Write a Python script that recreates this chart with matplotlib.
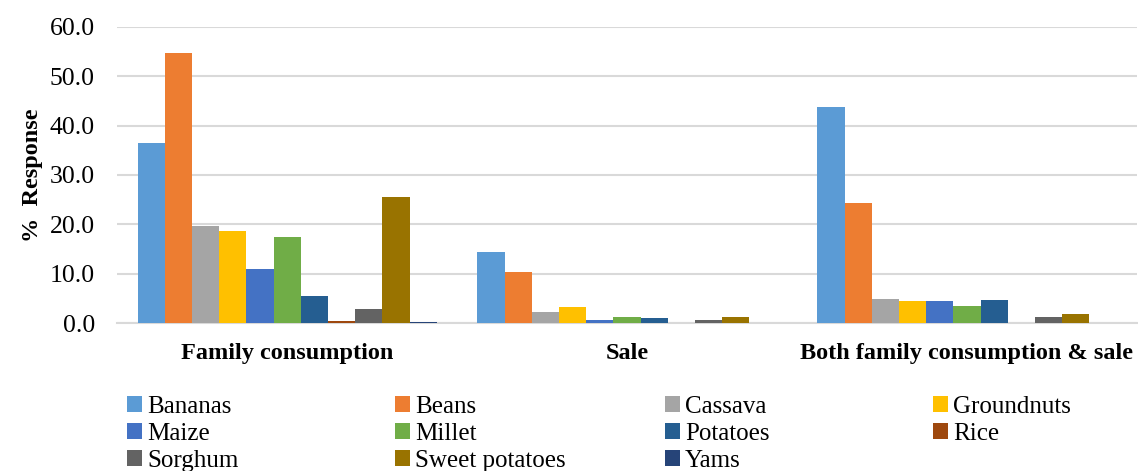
import matplotlib
matplotlib.use("Agg")
import matplotlib.pyplot as plt
import numpy as np

plt.rcParams['font.family'] = ['Liberation Serif', 'DejaVu Serif']

categories = ["Family consumption", "Sale", "Both family consumption & sale"]
crops = ["Bananas", "Beans", "Cassava", "Groundnuts", "Maize", "Millet",
         "Potatoes", "Rice", "Sorghum", "Sweet potatoes", "Yams"]
colors = ["#5B9BD5", "#ED7D31", "#A5A5A5", "#FFC000", "#4472C4", "#70AD47",
          "#255E91", "#9E480E", "#636363", "#997300", "#264478"]

bananas = [36.4, 14.3, 43.7]
beans = [54.8, 10.4, 24.4]
cassava = [19.7, 2.3, 4.9]
groundnuts = [18.7, 3.3, 4.4]
maize = [10.9, 0.7, 4.4]
millet = [17.5, 1.3, 3.4]
potatoes = [5.5, 1.1, 4.7]
rice = [0.5, 0.0, 0.0]
sorghum = [2.8, 0.7, 1.3]
sweet_potatoes = [25.5, 1.3, 1.8]
yams = [0.3, 0.0, 0.0]

series = [bananas, beans, cassava, groundnuts, maize, millet,
          potatoes, rice, sorghum, sweet_potatoes, yams]

fig = plt.figure(figsize=(11.38, 4.71), dpi=100)
ax = fig.add_axes([0.103, 0.314, 0.896, 0.629])

x = np.arange(len(categories))
n = len(series)
group_w = 0.88
w = group_w / n
handles = []
for i, (vals, c) in enumerate(zip(series, colors)):
    b = ax.bar(x - group_w / 2 + w * (i + 0.5), vals, width=w, color=c,
               label=crops[i], linewidth=0, zorder=3)
    handles.append(b)

ax.set_xlim(-0.5, 2.5)
ax.set_ylim(0, 60)
ax.set_yticks(np.arange(0, 61, 10))
ax.set_yticklabels([f"{v:.1f}" for v in np.arange(0, 61, 10)], fontsize=18.5)
ax.set_xticks(x)
ax.set_xticklabels(categories, fontsize=17.5, fontweight='bold')
ax.tick_params(axis='both', length=0)
ax.tick_params(axis='y', pad=16)
ax.tick_params(axis='x', pad=14)
ax.grid(axis='y', color='#D9D9D9', linewidth=1.5, zorder=0)
for s in ['top', 'right', 'left']:
    ax.spines[s].set_visible(False)
ax.spines['bottom'].set_color('#D9D9D9')
ax.spines['bottom'].set_linewidth(1.5)
ax.set_ylabel("%  Response", fontsize=17.5, fontweight='bold', labelpad=5)

# Legend laid out in four evenly spaced columns, filled row by row
col_x = [127, 395, 665, 933]
ncol = 4
for c in range(ncol):
    idx = list(range(c, n, ncol))
    fig.legend([handles[i] for i in idx], [crops[i] for i in idx],
               loc='upper left',
               bbox_to_anchor=(col_x[c] / 1138, 1 - 396 / 471),
               frameon=False, fontsize=18, handlelength=0.6,
               handleheight=0.6, handletextpad=0.2, labelspacing=0.2,
               borderpad=0, borderaxespad=0)

fig.savefig("out.png", dpi=100)
